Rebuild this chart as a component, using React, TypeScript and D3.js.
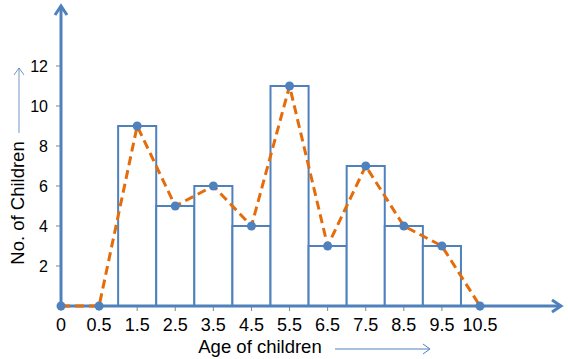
import React from "react";
import * as d3 from "d3";

// categories on the age axis (equal spacing, as in the original)
const ages = ["0", "0.5", "1.5", "2.5", "3.5", "4.5", "5.5", "6.5", "7.5", "8.5", "9.5", "10.5"];
// frequency polygon values (includes the zero end points)
const polygon = [0, 0, 9, 5, 6, 4, 11, 3, 7, 4, 3, 0];
// histogram bars
const barAges = ["1.5", "2.5", "3.5", "4.5", "5.5", "6.5", "7.5", "8.5", "9.5"];
const barCounts = [9, 5, 6, 4, 11, 3, 7, 4, 3];
const yTicks = [2, 4, 6, 8, 10, 12];

const W = 568;
const H = 359;
const blue = "#4F81BD";
const orange = "#E46C0A";
const font = "'Liberation Sans', Arial, sans-serif";

export default function App() {
  const x = d3.scalePoint<string>().domain(ages).range([61, 480]);
  const step = x.step();
  const y = d3.scaleLinear().domain([0, 12]).range([306, 66]);

  const line = d3
    .line<number>()
    .x((_, i) => x(ages[i]) as number)
    .y((d) => y(d));

  const x0 = x("0") as number;
  const y0 = y(0);

  return (
    <svg
      width={W}
      height={H}
      style={{ position: "absolute", left: 0, top: 0, background: "#fff" }}
      fontFamily={font}
    >
      {/* bars */}
      {barAges.map((a, i) => (
        <rect
          key={a}
          x={(x(a) as number) - step / 2}
          y={y(barCounts[i])}
          width={step}
          height={y0 - y(barCounts[i])}
          fill="#fff"
          stroke={blue}
          strokeWidth={2}
        />
      ))}

      {/* y ticks + labels */}
      {yTicks.map((t) => (
        <g key={t}>
          <line x1={x0 - 5} x2={x0} y1={y(t)} y2={y(t)} stroke="#868686" strokeWidth={1} />
          <text x={48} y={y(t) + 5.5} textAnchor="end" fontSize={16} fill="#000">
            {t}
          </text>
        </g>
      ))}

      {/* x ticks + labels */}
      {ages.map((a) => (
        <g key={a}>
          <line x1={x(a)} x2={x(a)} y1={y0} y2={y0 + 5} stroke="#868686" strokeWidth={1} />
          <text x={x(a)} y={331} textAnchor="middle" fontSize={18} fill="#000">
            {a}
          </text>
        </g>
      ))}

      {/* axes with arrows */}
      <line x1={x0} x2={x0} y1={y0} y2={6} stroke={blue} strokeWidth={3} />
      <path
        d={`M${x0 - 6},${15} L${x0},${6} L${x0 + 6},${15}`}
        fill="none"
        stroke={blue}
        strokeWidth={3}
      />
      <line x1={x0} x2={561} y1={y0} y2={y0} stroke={blue} strokeWidth={3} />
      <path
        d={`M${552},${y0 - 6} L${561},${y0} L${552},${y0 + 6}`}
        fill="none"
        stroke={blue}
        strokeWidth={3}
      />

      {/* frequency polygon */}
      <path
        d={line(polygon) ?? ""}
        fill="none"
        stroke={orange}
        strokeWidth={3}
        strokeDasharray="9,5"
      />
      {polygon.map((v, i) => (
        <circle key={i} cx={x(ages[i])} cy={y(v)} r={4.5} fill={blue} />
      ))}

      {/* axis titles */}
      <text
        transform="translate(24,203) rotate(-90)"
        textAnchor="middle"
        fontSize={18.5}
        fill="#000"
      >
        No. of Children
      </text>
      <line x1={19} x2={19} y1={133} y2={68} stroke={blue} strokeWidth={1} opacity={0.8} />
      <path d="M14,75 L19,68 L24,75" fill="none" stroke={blue} strokeWidth={1} opacity={0.8} />

      <text x={260} y={353} textAnchor="middle" fontSize={18.5} fill="#000">
        Age of children
      </text>
      <line x1={335} x2={430} y1={349} y2={349} stroke={blue} strokeWidth={1} />
      <path d="M423,344 L430,349 L423,354" fill="none" stroke={blue} strokeWidth={1} />
    </svg>
  );
}
